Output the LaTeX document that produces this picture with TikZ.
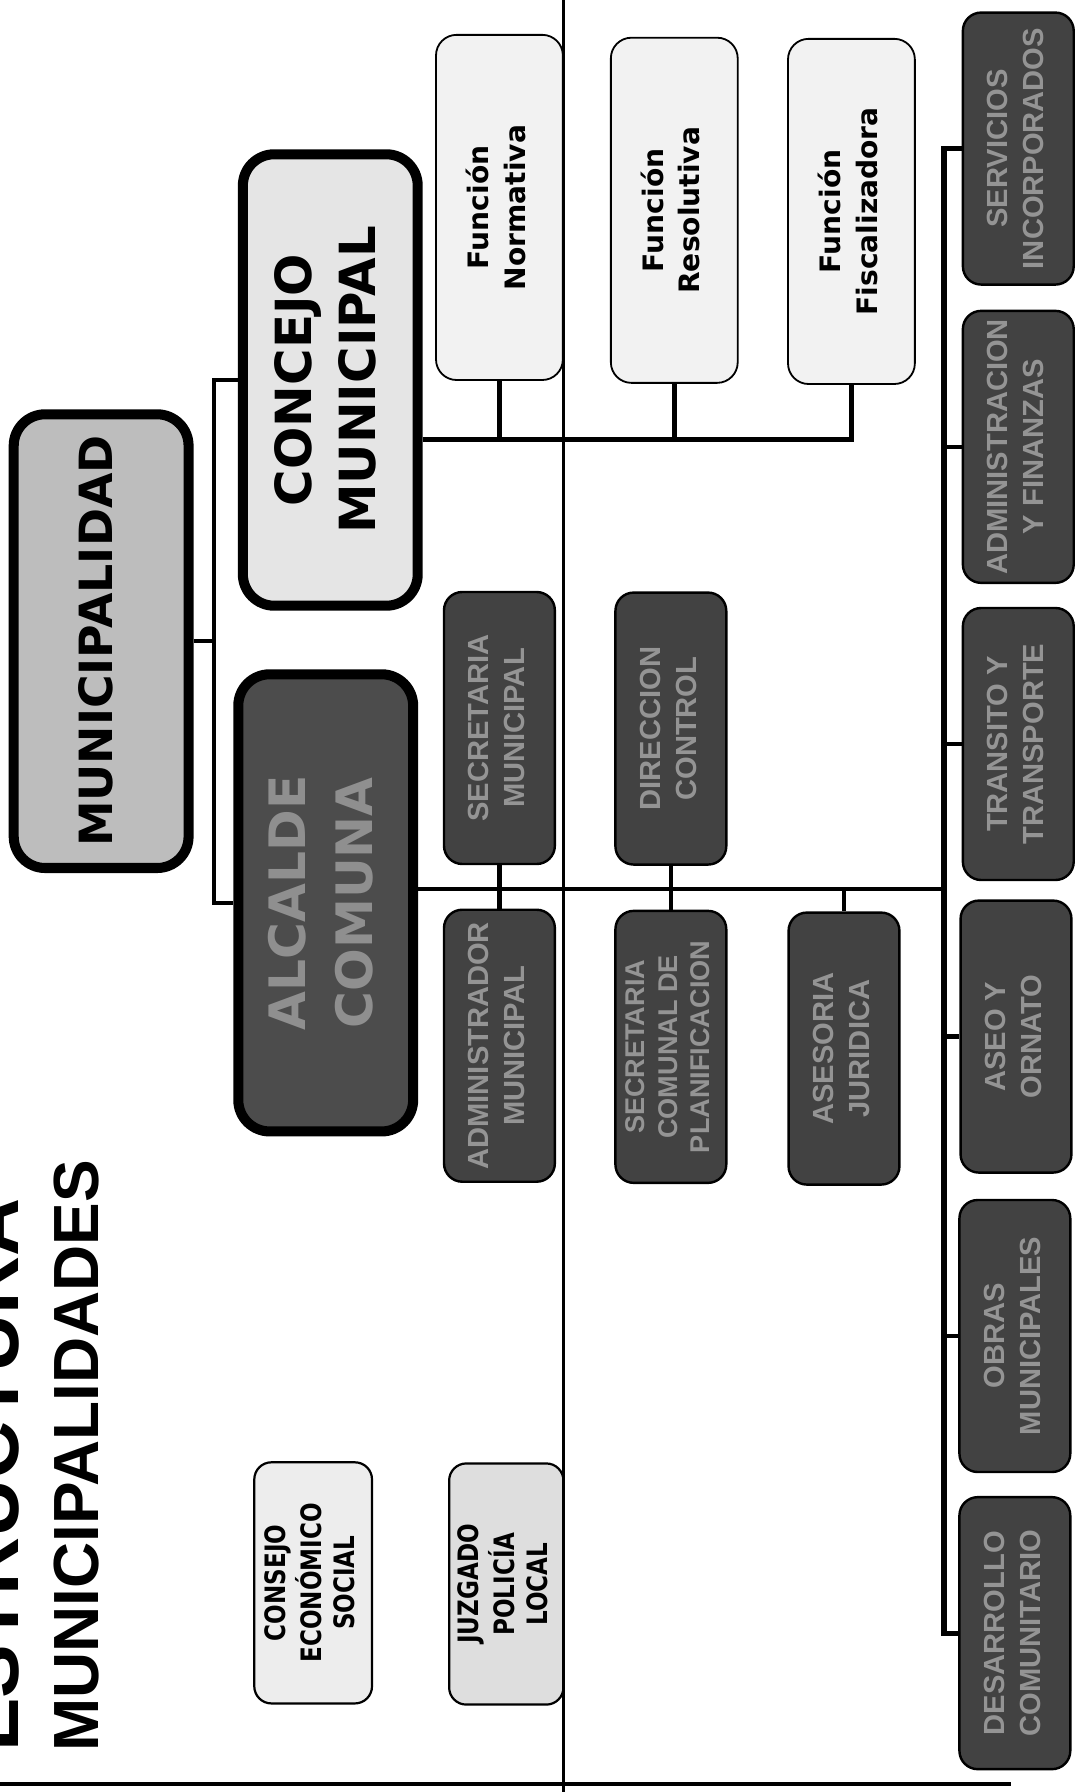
\documentclass[tikz,border=0pt]{standalone}
\usepackage{fontspec}
\setmainfont{DejaVu Sans}
\newfontfamily\arialfont{Liberation Sans}
\newfontfamily\narrowfont[FakeStretch=0.82]{DejaVu Sans}
\usetikzlibrary{calc}

\definecolor{muniGray}{gray}{0.74}
\definecolor{concejoGray}{gray}{0.90}
\definecolor{alcaldeGray}{gray}{0.30}
\definecolor{alcaldeText}{gray}{0.56}
\definecolor{unitGray}{gray}{0.26}
\definecolor{unitText}{gray}{0.58}
\definecolor{funcGray}{gray}{0.95}
\definecolor{sideGray}{gray}{0.93}
\definecolor{juzgadoGray}{gray}{0.87}

\newcommand{\vlabel}[1]{\rotatebox{90}{\begin{tabular}{@{}c@{}}#1\end{tabular}}}

\begin{document}
\begin{tikzpicture}[x=0.2mm, y=-0.2mm,
  bigbox/.style={draw, line width=5pt, rounded corners=5.5mm, inner sep=0pt, minimum width=30.6mm, minimum height=79.4mm},
  funcbox/.style={draw, line width=0.9pt, rounded corners=3.6mm, fill=funcGray, inner sep=0pt, minimum width=22.2mm, minimum height=60.4mm, font=\bfseries\fontsize{14}{18.2}\selectfont},
  unitbox/.style={draw, line width=1.2pt, rounded corners=3.2mm, fill=unitGray, text=unitText, inner sep=0pt, minimum width=19.4mm, minimum height=47.6mm, font=\arialfont\bfseries\fontsize{14.5}{18}\selectfont},
  sidebox/.style={draw, line width=1.1pt, rounded corners=3mm, inner sep=0pt, minimum width=20.6mm, minimum height=42.2mm, font=\narrowfont\bfseries\fontsize{14}{16.6}\selectfont},
  link/.style={line width=2.2pt},
  pageline/.style={line width=1.6pt}]

\useasboundingbox (0,0) rectangle (943,1568);
\clip (0,0) rectangle (943,1568);

% Title
\node[rotate=90, anchor=base west, inner sep=0pt, font=\arialfont\bfseries\fontsize{40}{48}\selectfont] (title1) at (16,1533) {ESTRUCTURA};
\node[rotate=90, anchor=base west, inner sep=0pt, font=\arialfont\bfseries\fontsize{31.8}{38}\selectfont] (title2) at (86,1533) {MUNICIPALIDADES};

% Main boxes
\node[bigbox, fill=muniGray, font=\bfseries\fontsize{22.8}{28}\selectfont] (muni) at (88.5,561) {\vlabel{MUNICIPALIDAD}};
\node[bigbox, fill=concejoGray, minimum height=79mm, font=\bfseries\fontsize{24.8}{31.9}\selectfont] (concejo) at (289,332.5) {\vlabel{CONCEJO\\MUNICIPAL}};
\node[bigbox, fill=alcaldeGray, text=alcaldeText, minimum height=80mm, font=\bfseries\fontsize{25}{33}\selectfont] (alcalde) at (285,790) {\vlabel{ALCALDE\\COMUNA}};

% Functions of the council
\node[funcbox] (fnorm) at (437,181.5) {\vlabel{Función\\Normativa}};
\node[funcbox] (fres) at (590,184) {\vlabel{Función\\Resolutiva}};
\node[funcbox] (ffis) at (745,185) {\vlabel{Función\\Fiscalizadora}};

% Units under the mayor
\node[unitbox] (secmun) at (437,637) {\vlabel{SECRETARIA\\MUNICIPAL}};
\node[unitbox] (admmun) at (437,915) {\vlabel{ADMINISTRADOR\\MUNICIPAL}};
\node[unitbox] (dircon) at (587,637.5) {\vlabel{DIRECCION\\CONTROL}};
\node[unitbox, font=\arialfont\bfseries\fontsize{13.5}{16.2}\selectfont] (secpla) at (587,916) {\vlabel{SECRETARIA\\COMUNAL DE\\PLANIFICACION}};
\node[unitbox] (asejur) at (738.5,917.5) {\vlabel{ASESORIA\\JURIDICA}};

% Services column
\node[unitbox] (servicios) at (891,130) {\vlabel{SERVICIOS\\INCORPORADOS}};
\node[unitbox] (admfin) at (891,391) {\vlabel{ADMINISTRACION\\Y FINANZAS}};
\node[unitbox] (transito) at (891,651) {\vlabel{TRANSITO Y\\TRANSPORTE}};
\node[unitbox] (aseo) at (889,907) {\vlabel{ASEO Y\\ORNATO}};
\node[unitbox] (obras) at (888,1169) {\vlabel{OBRAS\\MUNICIPALES}};
\node[unitbox] (desarrollo) at (888,1429) {\vlabel{DESARROLLO\\COMUNITARIO}};

% Side bodies
\node[sidebox, fill=sideGray] (conseco) at (274,1385) {\vlabel{CONSEJO\\ECONÓMICO\\SOCIAL}};
\node[sidebox, fill=juzgadoGray, minimum width=20mm] (juzgado) at (443,1386) {\vlabel{JUZGADO\\POLICÍA\\LOCAL}};

% Links from the municipality
\coordinate (mjunc) at (187,561);
\draw[link] (muni.east) -- (mjunc);
\draw[link] (concejo.west) -| (mjunc) |- (alcalde.west);

% Council bus
\coordinate (cbus) at ($(concejo.east)+(0,52)$);
\draw[link] (cbus) -- (cbus -| ffis.south) -- (ffis.south);
\draw[link] (fnorm.south) -- (fnorm.south |- cbus);
\draw[link] (fres.south) -- (fres.south |- cbus);

% Mayor bus
\coordinate (abus) at ($(alcalde.east)+(0,-12)$);
\coordinate (spine) at (826,778);
\draw[link] (abus) -- (spine);
\draw[link] (secmun.south) -- (admmun.north);
\draw[link] (dircon.south) -- (secpla.north);
\draw[link] (asejur.north) -- (asejur.north |- abus);
\draw[link, line width=2.6pt] (servicios.west) -- (servicios.west -| spine) -- (desarrollo.west -| spine) -- (desarrollo.west);
\foreach \n in {admfin,transito,aseo,obras}
  \draw[link] (\n.west) -- (\n.west -| spine);

% Page lines
\draw[pageline] (493,0) -- (493,1568);
\draw[pageline] (0,1561) -- (885,1561);
\end{tikzpicture}
\end{document}
